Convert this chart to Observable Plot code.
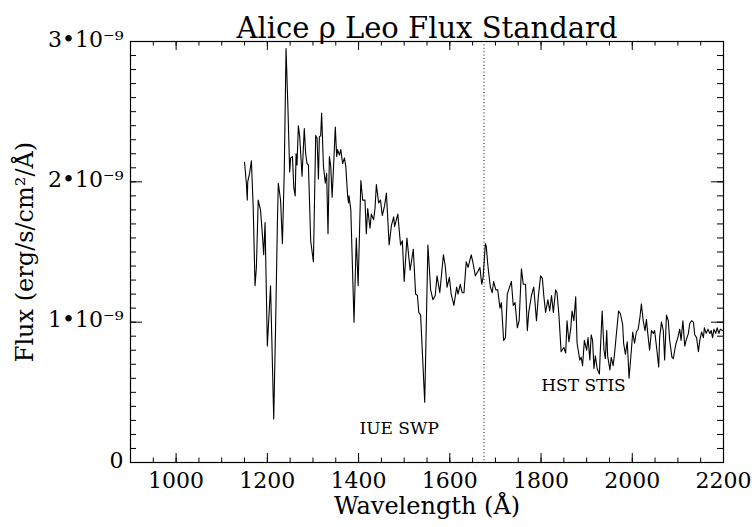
<!DOCTYPE html>
<html><head><meta charset="utf-8">
<script src="https://cdn.jsdelivr.net/npm/d3@7"></script>
<script src="https://cdn.jsdelivr.net/npm/@observablehq/plot@0.6"></script>
<style>html,body{margin:0;padding:0;background:#fff} svg{display:block}</style>
</head><body><div id="chart"></div>
<script>
const title = "Alice ρ Leo Flux Standard";
const xLabel = "Wavelength (Å)";
const yLabel = "Flux (erg/s/cm²/Å)";

const wavelength = [
1150,1154,1156,1157,1161,1165,1169,1173,1176,1180,
1185,1189,1192,1195,1200,1207,1214,1218,1222,1224,
1229,1233,1237,1241,1245,1249,1251,1255,1258,1261,
1263,1265,1268,1271,1276,1281,1284,1287,1290,1295,
1301,1306,1309,1312,1314,1317,1319,1323,1327,1330,
1333,1336,1339,1342,1346,1349,1352,1354,1358,1361,
1365,1369,1372,1376,1378,1379,1383,1390,1395,1399,
1405,1409,1414,1417,1420,1425,1428,1433,1436,1439,
1444,1448,1452,1457,1461,1467,1472,1477,1479,1486,
1492,1496,1500,1506,1513,1520,1525,1529,1532,1536,
1545,1552,1558,1563,1568,1572,1578,1586,1590,1594,
1599,1603,1609,1615,1618,1623,1627,1631,1636,1640,
1647,1651,1656,1661,1666,1670,1673,1678,1680,1683,
1686,1689,1693,1696,1701,1705,1710,1713,1718,1722,
1726,1729,1735,1739,1743,1748,1752,1757,1761,1766,
1770,1773,1779,1784,1790,1794,1799,1803,1806,1810,
1815,1819,1823,1827,1832,1835,1839,1844,1850,1854,
1857,1861,1865,1868,1872,1876,1879,1885,1888,1891,
1895,1900,1903,1907,1910,1913,1916,1919,1923,1928,
1930,1934,1938,1941,1944,1946,1951,1954,1958,1961,
1965,1970,1974,1979,1981,1985,1989,1993,1998,2001,
2005,2009,2013,2017,2020,2024,2028,2031,2034,2038,
2042,2046,2049,2054,2058,2060,2064,2068,2071,2075,
2079,2082,2087,2090,2093,2096,2100,2104,2107,2111,
2115,2118,2123,2126,2130,2134,2137,2141,2145,2148,
2152,2156,2158,2162,2166,2170,2173,2176,2179,2183,
2186,2190,2193,2198];

// flux in units of 1e-9 erg/s/cm^2/Å
const flux = [
2.14,1.99,1.87,2.00,2.06,2.15,1.82,1.26,1.39,1.87,
1.80,1.63,1.48,1.71,0.83,1.26,0.31,0.96,1.70,1.99,
1.87,1.56,2.06,2.95,2.54,2.07,2.17,2.18,1.96,1.90,
2.20,2.12,2.40,2.32,2.04,2.38,2.20,2.13,2.12,1.58,
1.43,2.33,2.31,2.02,2.32,2.33,2.49,2.11,1.99,2.06,
1.63,2.18,2.11,1.89,2.17,2.39,2.18,2.23,2.19,2.23,
2.13,2.17,2.11,1.90,1.85,1.90,1.80,1.00,1.60,1.26,
2.01,1.87,1.87,1.63,1.81,1.67,1.77,1.73,1.81,1.98,
1.85,1.87,1.76,1.83,1.92,1.55,1.69,1.75,1.68,1.77,
1.55,1.58,1.29,1.60,1.37,1.52,1.20,1.19,1.07,1.05,
0.43,1.55,1.23,1.16,1.19,1.33,1.21,1.48,1.40,1.25,
1.32,1.20,1.12,1.25,1.20,1.27,1.21,1.21,1.43,1.39,
1.48,1.42,1.33,1.36,1.39,1.27,1.32,1.56,1.54,1.42,
1.33,1.25,1.21,1.29,1.23,1.23,1.10,1.14,0.87,0.89,
1.20,1.23,1.29,1.12,1.14,0.96,1.01,1.38,1.27,1.27,
0.94,1.07,1.19,1.25,1.01,1.18,1.33,1.31,1.19,1.07,
1.16,1.08,1.19,1.07,1.23,1.21,1.06,0.79,0.82,0.78,
1.01,0.86,0.95,1.08,1.01,1.18,0.85,0.73,0.75,0.69,
0.87,0.80,0.89,0.73,0.91,0.87,0.67,0.76,0.67,0.63,
0.80,1.08,0.80,0.74,0.94,0.76,0.66,0.75,0.69,0.77,
0.91,1.08,1.06,0.98,0.85,0.77,0.86,0.60,0.80,0.93,
0.85,0.93,0.95,1.04,1.13,1.01,0.94,1.02,0.92,0.80,
0.94,0.92,0.94,0.80,0.68,0.89,1.00,0.94,0.73,1.05,
1.01,0.87,0.75,0.74,0.80,0.85,0.89,0.95,0.87,1.01,
0.83,0.87,0.92,0.99,1.01,1.00,0.91,0.89,0.79,0.87,
0.93,0.89,0.96,0.92,0.95,0.92,0.94,0.89,0.95,0.92,
0.96,0.92,0.95,0.94];

const xTicks = [1000, 1200, 1400, 1600, 1800, 2000, 2200];
const xMinorStep = 50;
const yTicks = [0, 1e-9, 2e-9, 3e-9];
const yMinorStep = 1e-10;
const boundary = [1675];
const noteText = ["IUE SWP", "HST STIS"];
const noteWavelength = [1489, 1893];
const noteFlux = [0.24e-9, 0.55e-9];

const data = wavelength.map((w, i) => ({w, f: flux[i] * 1e-9}));
const notes = noteText.map((t, i) => ({t, w: noteWavelength[i], f: noteFlux[i]}));
const xMinor = d3.range(900, 2200 + 1, xMinorStep);
const yMinor = d3.range(0, 31).map(i => i * yMinorStep);

const W = 752, H = 527, mL = 130, mR = 29, mT = 41, mB = 65;
const fw = W - mL - mR, fh = H - mT - mB;
const yFmt = d => d === 0 ? "0" : `${Math.round(d / 1e-9)}•10⁻⁹`;

const chart = Plot.plot({
  width: W, height: H,
  marginLeft: mL, marginRight: mR, marginTop: mT, marginBottom: mB,
  style: {fontFamily: "DejaVu Serif", background: "#fff", color: "#000"},
  x: {domain: [900, 2200], axis: null},
  y: {domain: [0, 3e-9], axis: null},
  marks: [
    Plot.tickX(xTicks, {x: d => d, insetTop: fh - 9, stroke: "#000"}),
    Plot.tickX(xMinor, {x: d => d, insetTop: fh - 4.5, stroke: "#000"}),
    Plot.tickX(xTicks, {x: d => d, insetBottom: fh - 9, stroke: "#000"}),
    Plot.tickX(xMinor, {x: d => d, insetBottom: fh - 4.5, stroke: "#000"}),
    Plot.tickY(yTicks, {y: d => d, insetRight: fw - 12, stroke: "#000"}),
    Plot.tickY(yMinor, {y: d => d, insetRight: fw - 6, stroke: "#000"}),
    Plot.tickY(yTicks, {y: d => d, insetLeft: fw - 12, stroke: "#000"}),
    Plot.tickY(yMinor, {y: d => d, insetLeft: fw - 6, stroke: "#000"}),
    Plot.ruleX(boundary, {stroke: "#000", strokeWidth: 1, strokeDasharray: "1,2.4"}),
    Plot.line(data, {x: "w", y: "f", stroke: "#000", strokeWidth: 1.1}),
    Plot.frame({stroke: "#000", strokeWidth: 1.2}),
    Plot.text(xTicks, {x: d => d, frameAnchor: "bottom", dy: 25, text: d => String(d), fontSize: 22, fill: "#000"}),
    Plot.text(yTicks, {y: d => d, frameAnchor: "left", dx: -7, dy: -2, textAnchor: "end", text: yFmt, fontSize: 22, fill: "#000"}),
    Plot.text([xLabel], {frameAnchor: "bottom", dy: 51, fontSize: 24, fill: "#000"}),
    Plot.text([yLabel], {frameAnchor: "left", textAnchor: "middle", dx: -105, rotate: -90, fontSize: 24, fill: "#000"}),
    Plot.text([title], {frameAnchor: "top", dy: -24, fontSize: 29, fill: "#000"}),
    Plot.text(notes, {x: "w", y: "f", text: "t", fontSize: 17, fill: "#000"})
  ]
});
document.getElementById("chart").appendChild(chart);
</script>
</body></html>
